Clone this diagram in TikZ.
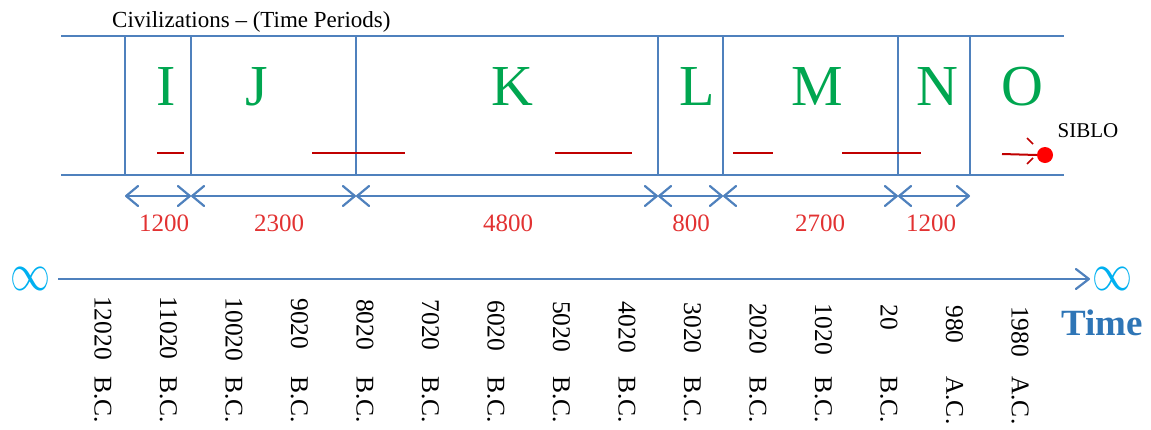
\documentclass[tikz,border=0pt]{standalone}
\usepackage{fontspec}
\usepackage{graphicx}
\setmainfont{Liberation Serif}
\usetikzlibrary{arrows.meta}
\definecolor{lineblue}{RGB}{79,129,189}
\definecolor{civgreen}{RGB}{0,166,80}
\definecolor{darkred}{RGB}{192,0,0}
\definecolor{numred}{RGB}{226,50,50}
\definecolor{infcyan}{RGB}{0,176,240}
\definecolor{timeblue}{RGB}{46,117,182}
\begin{document}
\begin{tikzpicture}[x=1pt,y=-1pt,
  band/.style={lineblue, line width=1.8pt},
  civ/.style={text=civgreen, font=\fontsize{58}{60}\selectfont, anchor=base, inner sep=0pt},
  redbar/.style={darkred, line width=2.4pt},
  dim/.style={lineblue, line width=2pt, {Straight Barb[length=12pt,width=20pt,line width=2.2pt 0,round]}-{Straight Barb[length=12pt,width=20pt,line width=2.2pt 0,round]}},
  num/.style={text=numred, font=\fontsize{25}{26}\selectfont, inner sep=0pt},
  datenum/.style={rotate=-90, anchor=west, font=\fontsize{25.5}{26}\selectfont, inner sep=0pt},
  inf/.style={text=infcyan, inner sep=0pt},
]
\useasboundingbox (0,0) rectangle (1151,429);

% title
\node[anchor=base west, font=\fontsize{23}{25}\selectfont, inner sep=0pt] (title) at (112,27) {Civilizations – (Time Periods)};

% band
\coordinate (bandTL) at (61,36);
\coordinate (bandTR) at (1064,36);
\coordinate (bandBL) at (61,175);
\coordinate (bandBR) at (1064,175);
\draw[band] (bandTL) -- (bandTR);
\draw[band] (bandBL) -- (bandBR);
\foreach \x [count=\i] in {125,191,356,658,723,898,970} {
  \coordinate (vt\i) at (\x,36);
  \coordinate (vb\i) at (\x,175);
  \coordinate (dm\i) at (\x,196);
}
\foreach \i in {1,...,7} { \draw[band] (vt\i) -- (vb\i); }

% civilization letters
\node[civ] (civI) at (166,105) {I};
\node[civ] (civJ) at (257,105) {J};
\node[civ] (civK) at (512,105) {K};
\node[civ] (civL) at (697,105) {L};
\node[civ] (civM) at (817,105) {M};
\node[civ] (civN) at (937,105) {N};
\node[civ] (civO) at (1022,105) {O};

% red bars
\foreach \n/\a/\b in {I/157/184, J/312/405, K/555/632, M/733/773, N/842/921} {
  \coordinate (rs\n) at (\a,153);
  \coordinate (re\n) at (\b,153);
  \draw[redbar] (rs\n) -- (re\n);
}

% SIBLO
\node[circle, fill=red, minimum size=16pt, inner sep=0pt] (siblodot) at (1045,155) {};
\coordinate (rsO) at (1002,154);
\draw[redbar, line width=2pt] (rsO) -- (siblodot.west);
\coordinate (tickA1) at (1027,138);
\coordinate (tickA2) at (1033,144);
\coordinate (tickB1) at (1027,164);
\coordinate (tickB2) at (1033,158);
\draw[darkred, line width=1.5pt] (tickA1) -- (tickA2);
\draw[darkred, line width=1.5pt] (tickB1) -- (tickB2);
\node[font=\fontsize{21}{22}\selectfont, inner sep=0pt] (siblo) at (1088,131) {SIBLO};

% duration arrows
\foreach \a/\b in {1/2,2/3,3/4,4/5,5/6,6/7} { \draw[dim] (dm\a) -- (dm\b); }

% durations
\node[num] (d1) at (164,223) {1200};
\node[num] (d2) at (279,223) {2300};
\node[num] (d3) at (508,223) {4800};
\node[num] (d4) at (691,223) {800};
\node[num] (d5) at (820,223) {2700};
\node[num] (d6) at (931,223) {1200};

% time axis
\node[inf] (infL) at (30,279) {\resizebox{40pt}{23pt}{$\infty$}};
\node[inf] (infR) at (1112,279) {\resizebox{40pt}{23pt}{$\infty$}};
\coordinate (axisL) at (58,279);
\coordinate (axisR) at (1090,279);
\draw[lineblue, line width=2pt, -{Straight Barb[length=13pt,width=20pt,line width=2.2pt 0,round]}] (axisL) -- (axisR);
\node[anchor=base, font=\bfseries\fontsize{37}{39}\selectfont, text=timeblue, inner sep=0pt] (time) at (1102,335) {Time};

% dates
\foreach \num/\suf [count=\i from 0] in {12020/B.C., 11020/B.C., 10020/B.C., 9020/B.C., 8020/B.C., 7020/B.C., 6020/B.C., 5020/B.C., 4020/B.C., 3020/B.C., 2020/B.C., 1020/B.C., 20/B.C., 980/A.C., 1980/A.C.} {
  \pgfmathsetmacro{\xx}{103+65.5*\i}
  \pgfmathsetmacro{\yy}{296+0.7*\i}
  \node[datenum] (dn\i) at (\xx,\yy) {\num};
  \node[datenum] (ds\i) at (\xx,376) {\suf};
}
\end{tikzpicture}
\end{document}
